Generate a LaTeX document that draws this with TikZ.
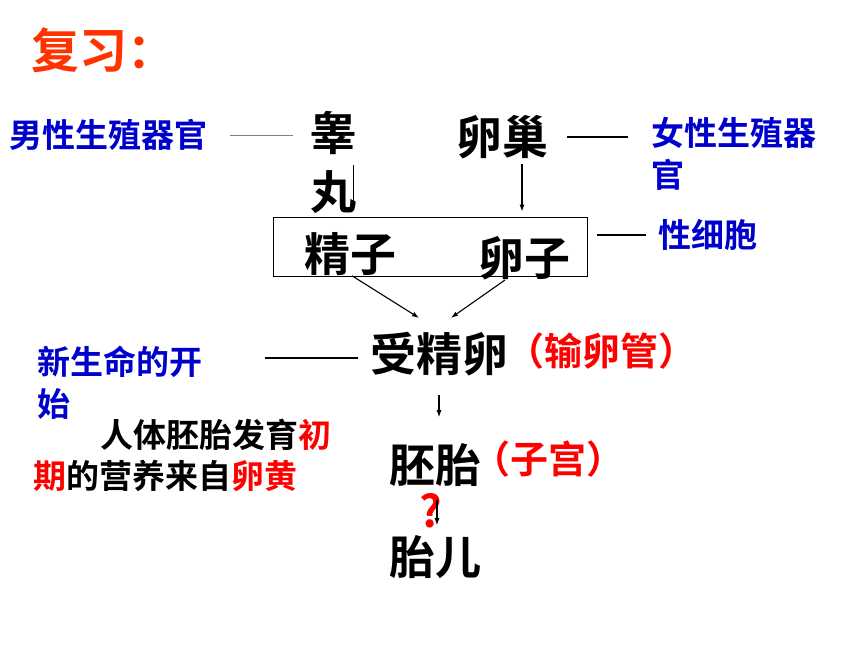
\documentclass[tikz,border=0pt]{standalone}
\usepackage{fontspec}
\setmainfont{Noto Sans CJK SC}[BoldFont={Noto Sans CJK SC Bold}]
\usetikzlibrary{arrows.meta}
\definecolor{lblue}{RGB}{0,0,204}
\definecolor{titlered}{RGB}{255,51,0}

\begin{document}
\begin{tikzpicture}[x=1pt, y=-1pt,
    big/.style={font=\bfseries\fontsize{46}{59}\selectfont, inner sep=0, align=center},
    note/.style={font=\bfseries\fontsize{33}{42}\selectfont, inner sep=0, align=left, text=lblue},
    place/.style={font=\bfseries\fontsize{38}{44}\selectfont, inner sep=0, text=red},
    arr/.style={->, >={Latex[length=7pt,width=5pt]}, line width=1.1pt},
    link/.style={line width=1.6pt}
  ]
  \useasboundingbox (0,0) rectangle (860,645);
  \node[anchor=west, inner sep=0, text=titlered, font=\bfseries\fontsize{48}{58}\selectfont] (title) at (31,50) {复习：};

  \node[note, anchor=west] (male) at (9,135) {男性生殖器官};
  \node[big] (testis) at (333,162) {睾\\丸};
  \node[big] (ovary) at (502,137) {卵巢};
  \node[note, anchor=west] (female) at (651,154) {女性生殖器\\官};

  \node[draw, line width=0.8pt, minimum width=314pt, minimum height=59pt, inner sep=0] (gametes) at (430,246.5) {};
  \node[big] (sperm) at (350,254) {精子};
  \node[big] (egg) at (524,258) {卵子};
  \node[note] (sexcell) at (708,235) {性细胞};

  \node[big] (zygote) at (439,354) {受精卵};
  \node[place] (tube) at (601,351) {（输卵管）};
  \node[note, anchor=west] (newlife) at (37,383) {新生命的开\\始};
  \node[inner sep=0, anchor=west, align=left, font=\bfseries\fontsize{33}{41}\selectfont] (yolk) at (33,455)
    {\hspace*{67pt}人体胚胎发育\textcolor{red}{初}\\\textcolor{red}{期}的营养来自\textcolor{red}{卵黄}};

  \node[big] (embryo) at (435,465) {胚胎};
  \node[place] (womb) at (548,459) {（子宫）};
  \node[inner sep=0, text=red, font=\bfseries\fontsize{44}{50}\selectfont] (ask) at (431,511) {?};
  \node[big] (fetus) at (435,557) {胎儿};

  \draw[gray, line width=0.8pt, shorten <=23pt, shorten >=17pt] (male.east) -- (male.east -| testis.west);
  \draw[line width=1.2pt, shorten <=19pt, shorten >=23pt] (ovary.east) -- (ovary.east -| female.west);
  \draw[link, shorten <=10pt, shorten >=12pt] (gametes.east |- sexcell.west) -- (sexcell.west);
  \draw[line width=2pt] ([xshift=-12pt,yshift=-4pt]zygote.west) -- ++(-93,0);

  \draw[arr, shorten <=3pt, shorten >=6pt] ([xshift=-3pt]testis.east) -- ([xshift=-3pt]testis.east |- gametes.north);
  \draw[arr, shorten <=5pt, shorten >=5pt] ([xshift=20pt]ovary.south) -- ([xshift=20pt]ovary.south |- gametes.north);
  \draw[arr] ([xshift=2pt]sperm.south) -- ([shift={(-20,-14)}]zygote.north);
  \draw[arr] ([xshift=-19pt]egg.south) -- ([shift={(12,-14)}]zygote.north);
  \draw[arr, shorten <=19pt, shorten >=26pt] (zygote.south) -- (zygote.south |- embryo.north);
  \draw[arr, shorten <=13pt, shorten >=10pt] ([xshift=2pt]embryo.south) -- ([xshift=2pt]embryo.south |- fetus.north);
\end{tikzpicture}
\end{document}
